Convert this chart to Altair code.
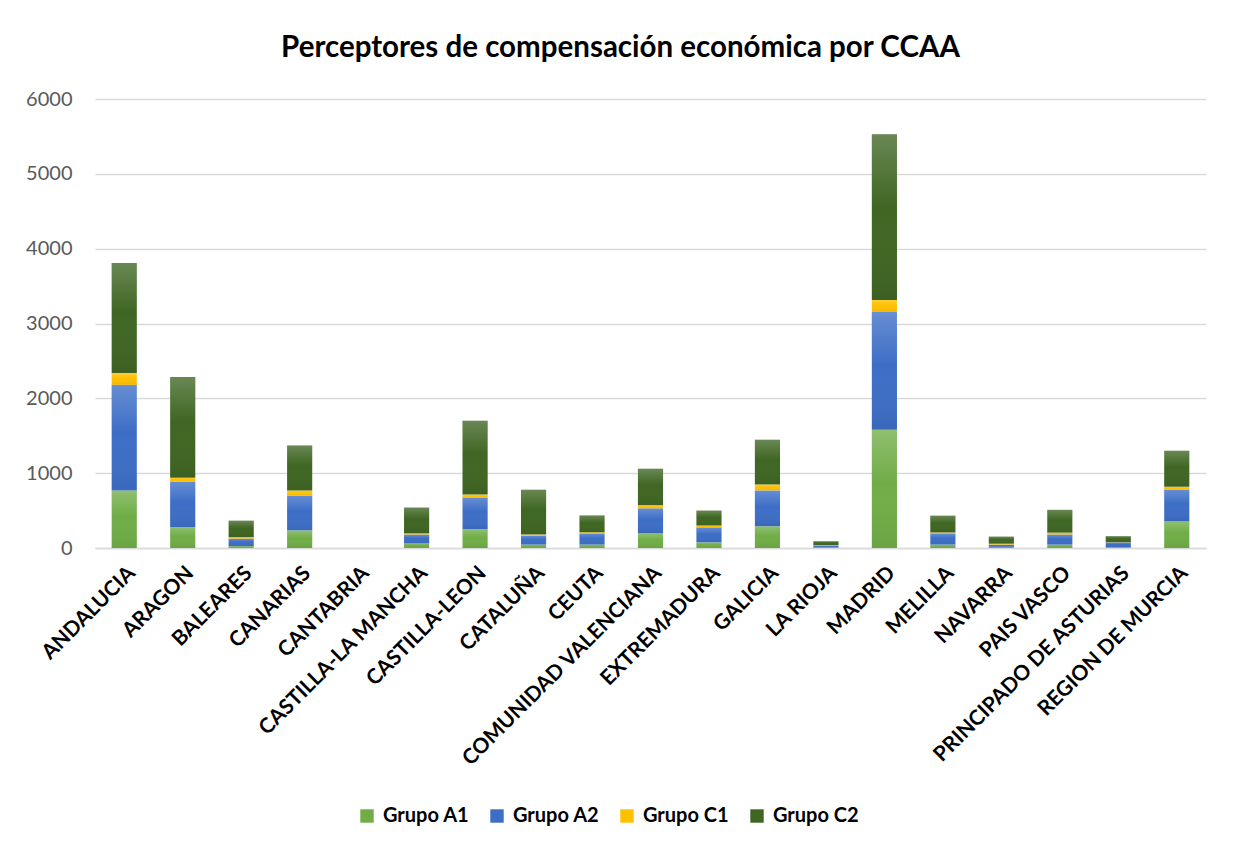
import altair as alt
import pandas as pd

ccaa = ["ANDALUCIA", "ARAGON", "BALEARES", "CANARIAS", "CANTABRIA",
        "CASTILLA-LA MANCHA", "CASTILLA-LEON", "CATALUÑA", "CEUTA",
        "COMUNIDAD VALENCIANA", "EXTREMADURA", "GALICIA", "LA RIOJA",
        "MADRID", "MELILLA", "NAVARRA", "PAIS VASCO",
        "PRINCIPADO DE ASTURIAS", "REGION DE MURCIA"]

grupo_a1 = [770, 280, 25, 235, 0, 60, 250, 45, 45, 195, 75, 290, 10, 1580, 45, 15, 45, 10, 355]
grupo_a2 = [1410, 605, 100, 465, 0, 120, 425, 120, 150, 335, 200, 480, 25, 1575, 150, 30, 135, 65, 425]
grupo_c1 = [160, 55, 20, 70, 0, 15, 40, 15, 15, 40, 25, 80, 5, 160, 12, 12, 25, 3, 40]
grupo_c2 = [1470, 1345, 220, 600, 0, 345, 985, 600, 225, 490, 200, 595, 50, 2215, 225, 95, 305, 80, 480]

series = ["Grupo A1", "Grupo A2", "Grupo C1", "Grupo C2"]
colors = ["#70ad47", "#3d6ec6", "#ffc000", "#3f6623"]

rows = []
for k, (name, vals) in enumerate(zip(series, [grupo_a1, grupo_a2, grupo_c1, grupo_c2])):
    for c, v in zip(ccaa, vals):
        rows.append({"ccaa": c, "grupo": name, "value": v, "order": k})
df = pd.DataFrame(rows)

FONT = "Lato"

base = alt.Chart(df).transform_stack(
    stack="value", groupby=["ccaa"], as_=["y0", "y1"],
    sort=[alt.SortField("order", order="ascending")]
)

x_enc = alt.X("ccaa:N", sort=ccaa, title=None,
              scale=alt.Scale(paddingInner=0.57, paddingOuter=0.285),
              axis=alt.Axis(labelAngle=-45, labelFontWeight="bold", labelColor="#000000",
                            labelFontSize=21, labelFont=FONT, labelPadding=14,
                            ticks=False, domainColor="#d9d9d9", domainWidth=1.5,
                            labelLimit=400))
y_enc = alt.Y("y1:Q", title=None,
              scale=alt.Scale(domain=[0, 6000], nice=False),
              axis=alt.Axis(values=[0, 1000, 2000, 3000, 4000, 5000, 6000], format="d",
                            labelColor="#595959", labelFontSize=20, labelFont=FONT,
                            labelPadding=23, ticks=False, domain=False,
                            gridColor="#d9d9d9", gridWidth=1.3))

bars = base.mark_bar().encode(
    x=x_enc,
    y=y_enc,
    y2="y0:Q",
    color=alt.Color("grupo:N", sort=series,
                    scale=alt.Scale(domain=series, range=colors),
                    legend=alt.Legend(title=None, orient="none", direction="horizontal",
                                      legendX=262, legendY=707, columns=4,
                                      gridAlign="all", columnPadding=17,
                                      symbolType="square", symbolSize=180,
                                      symbolStrokeWidth=0, labelFontSize=20,
                                      labelFontWeight="bold", labelFont=FONT,
                                      labelColor="#000000", labelOffset=6)),
)

shade = base.mark_bar(
    color=alt.Gradient(
        gradient="linear",
        stops=[alt.GradientStop(color="rgba(255,255,255,0.22)", offset=0),
               alt.GradientStop(color="rgba(255,255,255,0.0)", offset=0.45),
               alt.GradientStop(color="rgba(0,0,0,0.06)", offset=1)],
        x1=0, x2=0, y1=0, y2=1)
).encode(
    x=alt.X("ccaa:N", sort=ccaa),
    y=alt.Y("y1:Q"),
    y2="y0:Q",
    detail="grupo:N",
)

chart = alt.layer(bars, shade).properties(
    width=1111,
    height=449,
    autosize=alt.AutoSizeParams(type="none"),
    padding={"left": 87, "top": 91, "right": 19, "bottom": 294},
    title=alt.Title("Perceptores de compensación económica por CCAA",
                    font=FONT, fontSize=29.5, fontWeight="bold", color="#000000",
                    anchor="middle", dx=-30, offset=26),
).configure(background="#ffffff", view=alt.ViewConfig(stroke=None))

chart.save("out.html", embed_options={"renderer": "svg", "actions": False})
